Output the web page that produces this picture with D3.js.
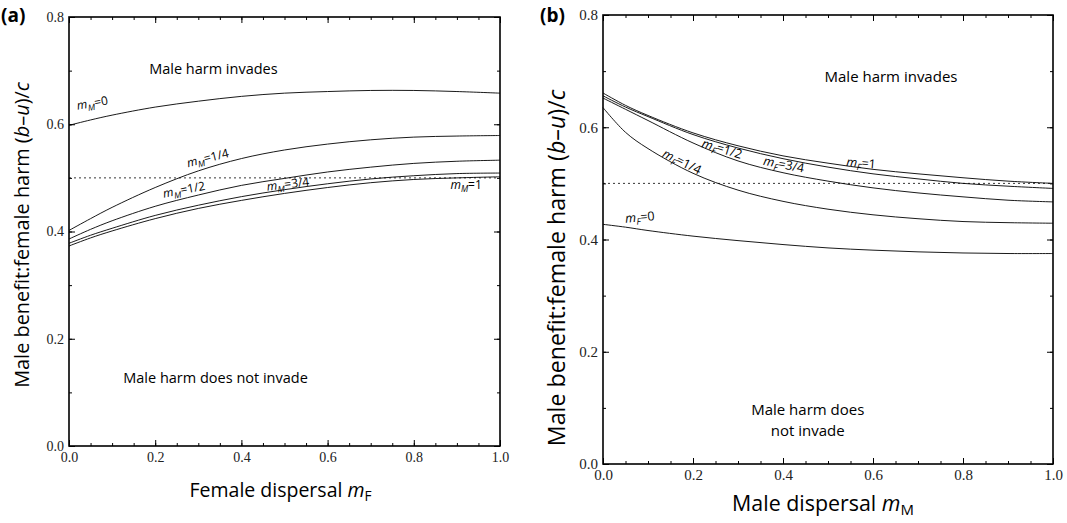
<!DOCTYPE html>
<head>
    <script src="https://d3js.org/d3.v7.min.js"></script>
    <style>
        body { margin: 0; background: #fff; }
        .tick line { stroke: #000; }
        .lbl { font-family: "Open Sans", sans-serif; fill: #000; }
    </style>
</head>
<body>
    <script>
        // x grid for both panels
        const xs = [0, 0.05, 0.1, 0.2, 0.3, 0.4, 0.5, 0.6, 0.7, 0.8, 0.9, 1.0];

        // panel (a): curves against female dispersal, one per male dispersal
        const aNames = ["0", "1/4", "1/2", "3/4", "1"];
        const aM0   = [0.598, 0.608, 0.617, 0.632, 0.643, 0.652, 0.658, 0.661, 0.663, 0.663, 0.661, 0.658];
        const aM14  = [0.402, 0.424, 0.445, 0.482, 0.513, 0.536, 0.552, 0.563, 0.571, 0.576, 0.578, 0.579];
        const aM12  = [0.386, 0.404, 0.420, 0.447, 0.468, 0.486, 0.499, 0.511, 0.520, 0.527, 0.531, 0.533];
        const aM34  = [0.378, 0.393, 0.406, 0.430, 0.449, 0.465, 0.478, 0.489, 0.498, 0.504, 0.508, 0.509];
        const aM1   = [0.373, 0.388, 0.401, 0.424, 0.443, 0.458, 0.471, 0.482, 0.491, 0.497, 0.500, 0.502];

        // panel (b): curves against male dispersal, one per female dispersal
        const bNames = ["0", "1/4", "1/2", "3/4", "1"];
        const bF0   = [0.427, 0.422, 0.416, 0.406, 0.398, 0.391, 0.385, 0.381, 0.378, 0.376, 0.375, 0.375];
        const bF14  = [0.635, 0.591, 0.562, 0.518, 0.488, 0.468, 0.454, 0.444, 0.437, 0.432, 0.430, 0.429];
        const bF12  = [0.652, 0.632, 0.612, 0.572, 0.540, 0.519, 0.504, 0.492, 0.483, 0.476, 0.470, 0.467];
        const bF34  = [0.656, 0.636, 0.619, 0.587, 0.563, 0.544, 0.529, 0.517, 0.508, 0.500, 0.495, 0.491];
        const bF1   = [0.661, 0.639, 0.621, 0.590, 0.567, 0.549, 0.536, 0.525, 0.517, 0.510, 0.504, 0.500];

        const threshold = 0.5;

        const svg = d3.select("body").append("svg")
            .attr("width", 1067).attr("height", 523);

        function panel(o) {
            const x = d3.scaleLinear().domain([0, 1]).range([o.left, o.right]);
            const y = d3.scaleLinear().domain([0, 0.8]).range([o.bottom, o.top]);
            const g = svg.append("g");
            const fs = o.tickFont;
            const minorX = d3.range(0, 1.001, 0.05), minorY = d3.range(0, 0.801, 0.1);
            const majorX = [0, 0.2, 0.4, 0.6, 0.8, 1.0], majorY = [0, 0.2, 0.4, 0.6, 0.8];

            // minor ticks on all sides
            g.append("g").attr("transform", `translate(0,${o.bottom})`)
                .call(d3.axisBottom(x).tickValues(minorX).tickSize(-3).tickSizeOuter(0).tickFormat(""));
            g.append("g").attr("transform", `translate(0,${o.top})`)
                .call(d3.axisTop(x).tickValues(minorX).tickSize(-3).tickSizeOuter(0).tickFormat(""));
            g.append("g").attr("transform", `translate(${o.left},0)`)
                .call(d3.axisLeft(y).tickValues(minorY).tickSize(-3).tickSizeOuter(0).tickFormat(""));
            g.append("g").attr("transform", `translate(${o.right},0)`)
                .call(d3.axisRight(y).tickValues(minorY).tickSize(-3).tickSizeOuter(0).tickFormat(""));

            // major ticks with labels
            const xb = g.append("g").attr("transform", `translate(0,${o.bottom})`)
                .call(d3.axisBottom(x).tickValues(majorX).tickSize(-6).tickSizeOuter(0)
                    .tickPadding(8).tickFormat(d3.format(".1f")));
            xb.attr("font-family", null);
            xb.selectAll("text").style("font-size", fs + "px").style("font-family", "'Liberation Serif', serif")
                .attr("fill", "#222").attr("dy", "0.55em");
            g.append("g").attr("transform", `translate(0,${o.top})`)
                .call(d3.axisTop(x).tickValues(majorX).tickSize(-6).tickSizeOuter(0).tickFormat(""));
            const yl = g.append("g").attr("transform", `translate(${o.left},0)`)
                .call(d3.axisLeft(y).tickValues(majorY).tickSize(-6).tickSizeOuter(0)
                    .tickPadding(5).tickFormat(d3.format(".1f")));
            yl.attr("font-family", null);
            yl.selectAll("text").style("font-size", fs + "px").style("font-family", "'Liberation Serif', serif")
                .attr("fill", "#222");
            g.append("g").attr("transform", `translate(${o.right},0)`)
                .call(d3.axisRight(y).tickValues(majorY).tickSize(-6).tickSizeOuter(0).tickFormat(""));
            g.selectAll(".domain").remove();

            // frame
            g.append("rect")
                .attr("x", o.left).attr("y", o.top)
                .attr("width", o.right - o.left).attr("height", o.bottom - o.top)
                .attr("fill", "none").attr("stroke", "#000").attr("stroke-width", 1.6);

            // dotted threshold
            g.append("line")
                .attr("x1", x(0)).attr("x2", x(1))
                .attr("y1", y(threshold)).attr("y2", y(threshold))
                .attr("stroke", "#000").attr("stroke-width", 0.8).attr("stroke-dasharray", "2,3");

            const line = d3.line()
                .x((d, i) => x(xs[i])).y(d => y(d))
                .curve(d3.curveCatmullRom.alpha(0.5));
            o.series.forEach(s => {
                g.append("path").attr("d", line(s))
                    .attr("fill", "none").attr("stroke", "#000").attr("stroke-width", 0.9);
            });

            // curve labels
            o.labels.forEach((l, i) => {
                const t = g.append("text").attr("class", "lbl")
                    .attr("font-size", o.curveFont)
                    .attr("transform", `translate(${x(l.at[0])},${y(l.at[1])}) rotate(${l.rot})`);
                t.append("tspan").attr("font-style", "italic").text("m");
                t.append("tspan").attr("font-style", "italic").attr("font-size", o.curveFont * 0.72)
                    .attr("dy", 3).text(o.sub);
                t.append("tspan").attr("dy", -3).text("=" + o.names[i]);
            });

            // region notes
            o.notes.forEach(n => {
                g.append("text").attr("class", "lbl")
                    .attr("x", x(n.at[0])).attr("y", y(n.at[1]))
                    .attr("text-anchor", "middle").attr("font-size", o.noteFont)
                    .text(n.text);
            });

            // axis titles
            const xt = g.append("text").attr("class", "lbl")
                .attr("x", (o.left + o.right) / 2 + o.xTitleDx).attr("y", o.xTitleY)
                .attr("text-anchor", "middle").attr("font-size", o.xTitleFont);
            xt.append("tspan").text(o.xTitle + " ");
            xt.append("tspan").attr("font-style", "italic").text("m");
            xt.append("tspan").attr("font-size", o.xTitleFont * 0.7).attr("dy", 4).text(o.xSub);

            const yt = g.append("text").attr("class", "lbl")
                .attr("transform", `translate(${o.yTitleX},${o.yTitleY}) rotate(-90)`)
                .attr("text-anchor", "middle").attr("font-size", o.yTitleFont);
            yt.append("tspan").text("Male benefit:female harm (");
            yt.append("tspan").attr("font-style", "italic").text("b");
            yt.append("tspan").text("–");
            yt.append("tspan").attr("font-style", "italic").text("u");
            yt.append("tspan").text(")/");
            yt.append("tspan").attr("font-style", "italic").text("c");

            g.append("text").attr("class", "lbl")
                .attr("x", o.tagX).attr("y", 22)
                .attr("font-size", 19).attr("font-weight", "bold")
                .text(o.tag);
        }

        panel({
            left: 69, right: 500, top: 17, bottom: 446,
            tickFont: 14, curveFont: 12, noteFont: 14.5,
            xTitleFont: 19.5, yTitleFont: 19.9,
            series: [aM0, aM14, aM12, aM34, aM1],
            names: aNames, sub: "M",
            labels: [
                { at: [0.02, 0.627], rot: -10 },
                { at: [0.276, 0.52], rot: -14 },
                { at: [0.22, 0.463], rot: -11 },
                { at: [0.46, 0.476], rot: -7 },
                { at: [0.885, 0.48], rot: 0 }
            ],
            notes: [
                { at: [0.335, 0.694], text: "Male harm invades" },
                { at: [0.34, 0.118], text: "Male harm does not invade" }
            ],
            xTitle: "Female dispersal", xSub: "F", xTitleY: 497, xTitleDx: -4,
            yTitleX: 29, yTitleY: 235, tag: "(a)", tagX: 1
        });

        panel({
            left: 603, right: 1053, top: 15, bottom: 464,
            tickFont: 15, curveFont: 12.5, noteFont: 15,
            xTitleFont: 21.4, yTitleFont: 23.2,
            series: [bF0, bF14, bF12, bF34, bF1],
            names: bNames, sub: "F",
            labels: [
                { at: [0.05, 0.43], rot: -5 },
                { at: [0.13, 0.548], rot: 26 },
                { at: [0.218, 0.565], rot: 17 },
                { at: [0.355, 0.533], rot: 11 },
                { at: [0.54, 0.531], rot: 5 }
            ],
            notes: [
                { at: [0.64, 0.681], text: "Male harm invades" },
                { at: [0.455, 0.088], text: "Male harm does" },
                { at: [0.455, 0.05], text: "not invade" }
            ],
            xTitle: "Male dispersal", xSub: "M", xTitleY: 511, xTitleDx: -5,
            yTitleX: 565, yTitleY: 268, tag: "(b)", tagX: 540
        });
    </script>
</body>
